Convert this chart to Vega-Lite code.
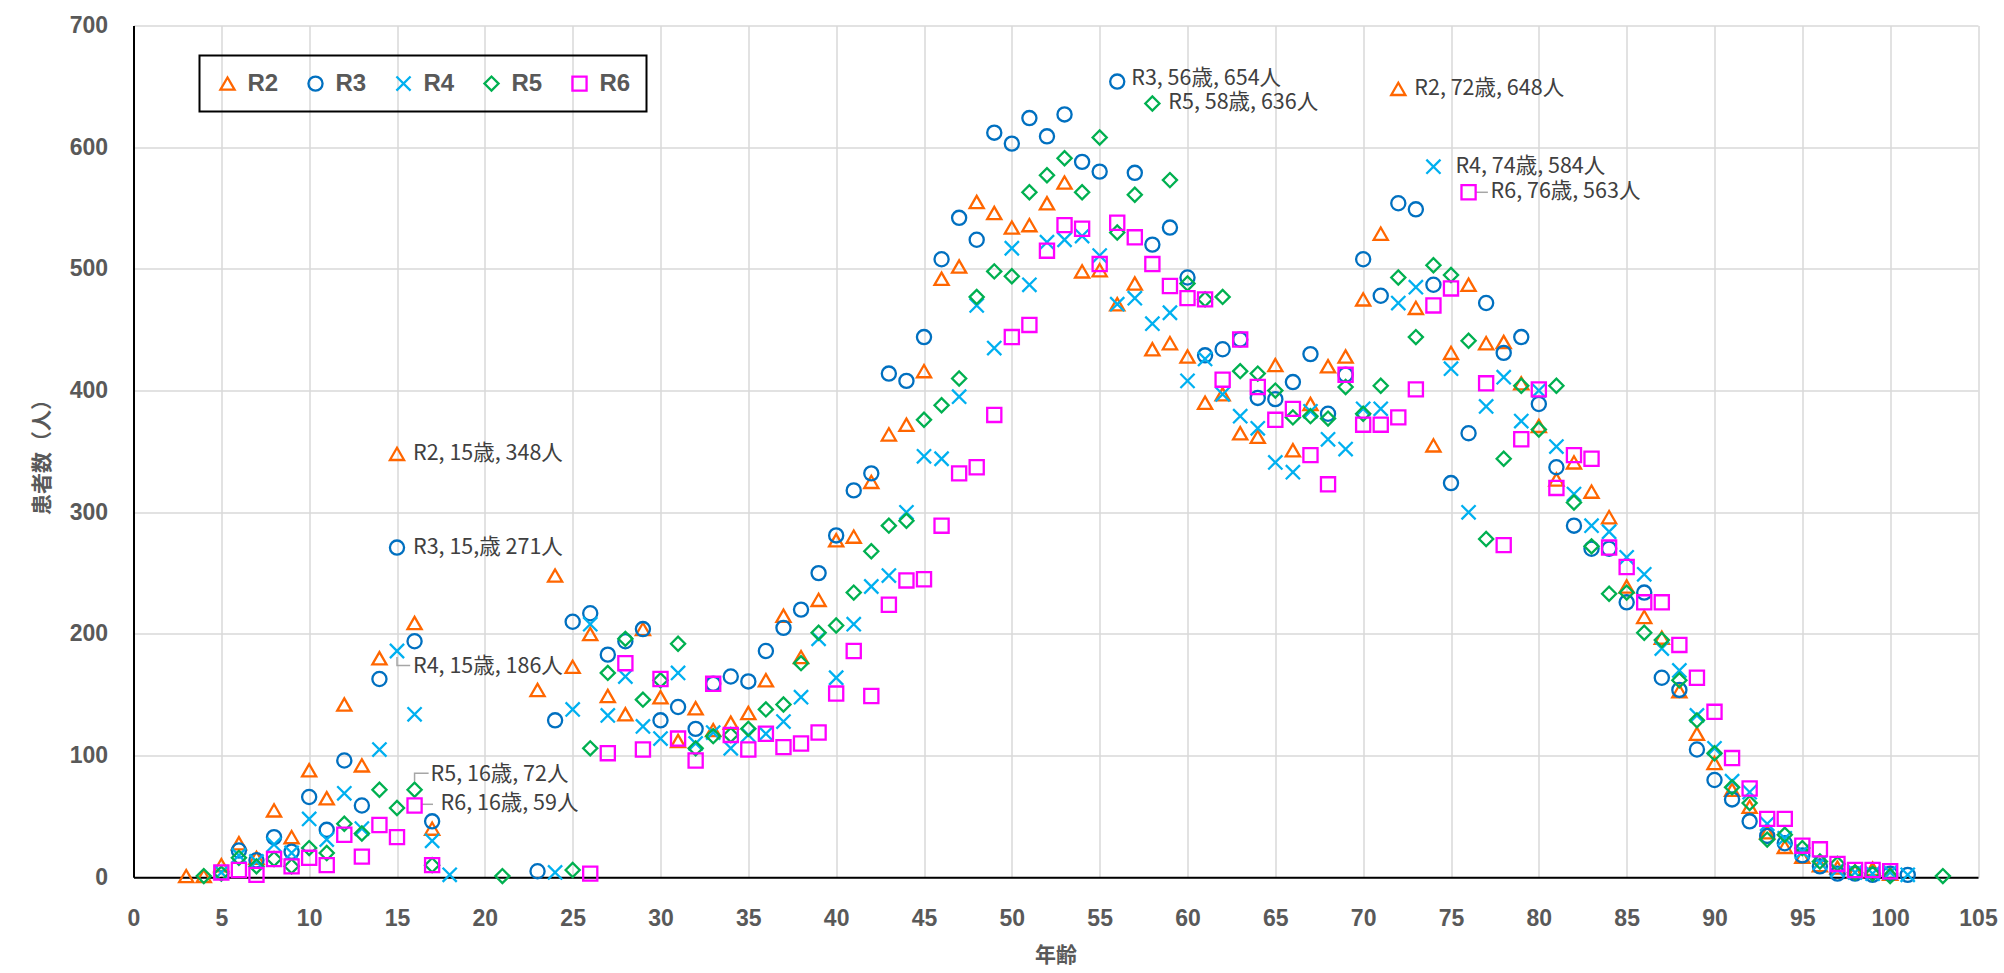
{
"$schema": "https://vega.github.io/schema/vega-lite/v6.json",
"width": 1844.5, "height": 851.7,
"autosize": {"type": "none"},
"padding": {"left": 133.5, "top": 25.6, "right": 26, "bottom": 95.7},
"background": "white",
"config": {
  "view": {"stroke": null},
  "axis": {"grid": true, "gridColor": "#d9d9d9", "gridWidth": 1.5, "domainColor": "#000000", "domainWidth": 2, "ticks": false,
    "labelFont": "Liberation Sans", "labelFontSize": 23, "labelFontWeight": "bold", "labelColor": "#595959",
    "titleFont": "Noto Sans CJK JP", "titleFontSize": 21, "titleFontWeight": "bold", "titleColor": "#595959",
    "labelFlush": false, "labelOverlap": false},
  "legend": {"strokeWidth": 2}
},
"datasets": {
"pts": [
{"s":"R2","age":3,"n":1},{"s":"R2","age":4,"n":1},{"s":"R2","age":5,"n":10},{"s":"R2","age":6,"n":28},{"s":"R2","age":7,"n":16},{"s":"R2","age":8,"n":55},{"s":"R2","age":9,"n":33},{"s":"R2","age":10,"n":88},{"s":"R2","age":11,"n":65},{"s":"R2","age":12,"n":142},{"s":"R2","age":13,"n":92},{"s":"R2","age":14,"n":180},{"s":"R2","age":15,"n":348},{"s":"R2","age":16,"n":209},{"s":"R2","age":17,"n":40},{"s":"R2","age":23,"n":154},{"s":"R2","age":24,"n":248},{"s":"R2","age":25,"n":173},{"s":"R2","age":26,"n":200},{"s":"R2","age":27,"n":149},{"s":"R2","age":28,"n":134},{"s":"R2","age":29,"n":204},{"s":"R2","age":30,"n":148},{"s":"R2","age":31,"n":112},{"s":"R2","age":32,"n":139},{"s":"R2","age":33,"n":121},{"s":"R2","age":34,"n":127},{"s":"R2","age":35,"n":135},{"s":"R2","age":36,"n":162},{"s":"R2","age":37,"n":215},{"s":"R2","age":38,"n":181},{"s":"R2","age":39,"n":228},{"s":"R2","age":40,"n":277},{"s":"R2","age":41,"n":280},{"s":"R2","age":42,"n":325},{"s":"R2","age":43,"n":364},{"s":"R2","age":44,"n":372},{"s":"R2","age":45,"n":416},{"s":"R2","age":46,"n":492},{"s":"R2","age":47,"n":502},{"s":"R2","age":48,"n":555},{"s":"R2","age":49,"n":546},{"s":"R2","age":50,"n":534},{"s":"R2","age":51,"n":536},{"s":"R2","age":52,"n":554},{"s":"R2","age":53,"n":571},{"s":"R2","age":54,"n":498},{"s":"R2","age":55,"n":499},{"s":"R2","age":56,"n":471},{"s":"R2","age":57,"n":488},{"s":"R2","age":58,"n":434},{"s":"R2","age":59,"n":439},{"s":"R2","age":60,"n":428},{"s":"R2","age":61,"n":390},{"s":"R2","age":62,"n":397},{"s":"R2","age":63,"n":365},{"s":"R2","age":64,"n":362},{"s":"R2","age":65,"n":421},{"s":"R2","age":66,"n":351},{"s":"R2","age":67,"n":389},{"s":"R2","age":68,"n":420},{"s":"R2","age":69,"n":428},{"s":"R2","age":70,"n":475},{"s":"R2","age":71,"n":529},{"s":"R2","age":72,"n":648},{"s":"R2","age":73,"n":468},{"s":"R2","age":74,"n":355},{"s":"R2","age":75,"n":431},{"s":"R2","age":76,"n":487},{"s":"R2","age":77,"n":439},{"s":"R2","age":78,"n":440},{"s":"R2","age":79,"n":406},{"s":"R2","age":80,"n":371},{"s":"R2","age":81,"n":327},{"s":"R2","age":82,"n":341},{"s":"R2","age":83,"n":317},{"s":"R2","age":84,"n":296},{"s":"R2","age":85,"n":239},{"s":"R2","age":86,"n":214},{"s":"R2","age":87,"n":197},{"s":"R2","age":88,"n":153},{"s":"R2","age":89,"n":118},{"s":"R2","age":90,"n":94},{"s":"R2","age":91,"n":72},{"s":"R2","age":92,"n":58},{"s":"R2","age":93,"n":37},{"s":"R2","age":94,"n":25},{"s":"R2","age":95,"n":17},{"s":"R2","age":96,"n":10},{"s":"R2","age":97,"n":8},{"s":"R2","age":98,"n":5},{"s":"R2","age":99,"n":7},{"s":"R2","age":100,"n":3},
{"s":"R3","age":6,"n":22},{"s":"R3","age":7,"n":14},{"s":"R3","age":8,"n":33},{"s":"R3","age":9,"n":21},{"s":"R3","age":10,"n":66},{"s":"R3","age":11,"n":39},{"s":"R3","age":12,"n":96},{"s":"R3","age":13,"n":59},{"s":"R3","age":14,"n":163},{"s":"R3","age":15,"n":271},{"s":"R3","age":16,"n":194},{"s":"R3","age":17,"n":46},{"s":"R3","age":23,"n":5},{"s":"R3","age":24,"n":129},{"s":"R3","age":25,"n":210},{"s":"R3","age":26,"n":217},{"s":"R3","age":27,"n":183},{"s":"R3","age":28,"n":194},{"s":"R3","age":29,"n":204},{"s":"R3","age":30,"n":129},{"s":"R3","age":31,"n":140},{"s":"R3","age":32,"n":122},{"s":"R3","age":33,"n":159},{"s":"R3","age":34,"n":165},{"s":"R3","age":35,"n":161},{"s":"R3","age":36,"n":186},{"s":"R3","age":37,"n":205},{"s":"R3","age":38,"n":220},{"s":"R3","age":39,"n":250},{"s":"R3","age":40,"n":281},{"s":"R3","age":41,"n":318},{"s":"R3","age":42,"n":332},{"s":"R3","age":43,"n":414},{"s":"R3","age":44,"n":408},{"s":"R3","age":45,"n":444},{"s":"R3","age":46,"n":508},{"s":"R3","age":47,"n":542},{"s":"R3","age":48,"n":524},{"s":"R3","age":49,"n":612},{"s":"R3","age":50,"n":603},{"s":"R3","age":51,"n":624},{"s":"R3","age":52,"n":609},{"s":"R3","age":53,"n":627},{"s":"R3","age":54,"n":588},{"s":"R3","age":55,"n":580},{"s":"R3","age":56,"n":654},{"s":"R3","age":57,"n":579},{"s":"R3","age":58,"n":520},{"s":"R3","age":59,"n":534},{"s":"R3","age":60,"n":493},{"s":"R3","age":61,"n":429},{"s":"R3","age":62,"n":434},{"s":"R3","age":63,"n":442},{"s":"R3","age":64,"n":394},{"s":"R3","age":65,"n":393},{"s":"R3","age":66,"n":407},{"s":"R3","age":67,"n":430},{"s":"R3","age":68,"n":381},{"s":"R3","age":69,"n":413},{"s":"R3","age":70,"n":508},{"s":"R3","age":71,"n":478},{"s":"R3","age":72,"n":554},{"s":"R3","age":73,"n":549},{"s":"R3","age":74,"n":487},{"s":"R3","age":75,"n":324},{"s":"R3","age":76,"n":365},{"s":"R3","age":77,"n":472},{"s":"R3","age":78,"n":431},{"s":"R3","age":79,"n":444},{"s":"R3","age":80,"n":389},{"s":"R3","age":81,"n":337},{"s":"R3","age":82,"n":289},{"s":"R3","age":83,"n":270},{"s":"R3","age":84,"n":270},{"s":"R3","age":85,"n":226},{"s":"R3","age":86,"n":234},{"s":"R3","age":87,"n":164},{"s":"R3","age":88,"n":154},{"s":"R3","age":89,"n":105},{"s":"R3","age":90,"n":80},{"s":"R3","age":91,"n":64},{"s":"R3","age":92,"n":46},{"s":"R3","age":93,"n":34},{"s":"R3","age":94,"n":28},{"s":"R3","age":95,"n":18},{"s":"R3","age":96,"n":9},{"s":"R3","age":97,"n":3},{"s":"R3","age":98,"n":3},{"s":"R3","age":99,"n":2},{"s":"R3","age":100,"n":3},{"s":"R3","age":101,"n":2},
{"s":"R4","age":5,"n":4},{"s":"R4","age":6,"n":18},{"s":"R4","age":7,"n":13},{"s":"R4","age":8,"n":27},{"s":"R4","age":9,"n":20},{"s":"R4","age":10,"n":48},{"s":"R4","age":11,"n":31},{"s":"R4","age":12,"n":69},{"s":"R4","age":13,"n":40},{"s":"R4","age":14,"n":105},{"s":"R4","age":15,"n":186},{"s":"R4","age":16,"n":134},{"s":"R4","age":17,"n":30},{"s":"R4","age":18,"n":2},{"s":"R4","age":24,"n":4},{"s":"R4","age":25,"n":138},{"s":"R4","age":26,"n":208},{"s":"R4","age":27,"n":133},{"s":"R4","age":28,"n":165},{"s":"R4","age":29,"n":124},{"s":"R4","age":30,"n":114},{"s":"R4","age":31,"n":168},{"s":"R4","age":32,"n":110},{"s":"R4","age":33,"n":119},{"s":"R4","age":34,"n":106},{"s":"R4","age":35,"n":117},{"s":"R4","age":36,"n":118},{"s":"R4","age":37,"n":128},{"s":"R4","age":38,"n":148},{"s":"R4","age":39,"n":196},{"s":"R4","age":40,"n":164},{"s":"R4","age":41,"n":208},{"s":"R4","age":42,"n":239},{"s":"R4","age":43,"n":248},{"s":"R4","age":44,"n":300},{"s":"R4","age":45,"n":346},{"s":"R4","age":46,"n":344},{"s":"R4","age":47,"n":395},{"s":"R4","age":48,"n":470},{"s":"R4","age":49,"n":435},{"s":"R4","age":50,"n":517},{"s":"R4","age":51,"n":487},{"s":"R4","age":52,"n":522},{"s":"R4","age":53,"n":524},{"s":"R4","age":54,"n":527},{"s":"R4","age":55,"n":511},{"s":"R4","age":56,"n":471},{"s":"R4","age":57,"n":476},{"s":"R4","age":58,"n":455},{"s":"R4","age":59,"n":464},{"s":"R4","age":60,"n":408},{"s":"R4","age":61,"n":426},{"s":"R4","age":62,"n":397},{"s":"R4","age":63,"n":379},{"s":"R4","age":64,"n":369},{"s":"R4","age":65,"n":341},{"s":"R4","age":66,"n":333},{"s":"R4","age":67,"n":383},{"s":"R4","age":68,"n":360},{"s":"R4","age":69,"n":352},{"s":"R4","age":70,"n":385},{"s":"R4","age":71,"n":385},{"s":"R4","age":72,"n":472},{"s":"R4","age":73,"n":485},{"s":"R4","age":74,"n":584},{"s":"R4","age":75,"n":418},{"s":"R4","age":76,"n":300},{"s":"R4","age":77,"n":387},{"s":"R4","age":78,"n":411},{"s":"R4","age":79,"n":375},{"s":"R4","age":80,"n":400},{"s":"R4","age":81,"n":354},{"s":"R4","age":82,"n":315},{"s":"R4","age":83,"n":289},{"s":"R4","age":84,"n":284},{"s":"R4","age":85,"n":263},{"s":"R4","age":86,"n":249},{"s":"R4","age":87,"n":188},{"s":"R4","age":88,"n":170},{"s":"R4","age":89,"n":133},{"s":"R4","age":90,"n":106},{"s":"R4","age":91,"n":79},{"s":"R4","age":92,"n":70},{"s":"R4","age":93,"n":44},{"s":"R4","age":94,"n":32},{"s":"R4","age":95,"n":21},{"s":"R4","age":96,"n":12},{"s":"R4","age":97,"n":6},{"s":"R4","age":98,"n":4},{"s":"R4","age":99,"n":3},{"s":"R4","age":100,"n":4},{"s":"R4","age":101,"n":2},
{"s":"R5","age":4,"n":1},{"s":"R5","age":5,"n":3},{"s":"R5","age":6,"n":16},{"s":"R5","age":7,"n":9},{"s":"R5","age":8,"n":15},{"s":"R5","age":9,"n":9},{"s":"R5","age":10,"n":24},{"s":"R5","age":11,"n":20},{"s":"R5","age":12,"n":44},{"s":"R5","age":13,"n":36},{"s":"R5","age":14,"n":72},{"s":"R5","age":15,"n":57},{"s":"R5","age":16,"n":72},{"s":"R5","age":17,"n":10},{"s":"R5","age":21,"n":1},{"s":"R5","age":25,"n":6},{"s":"R5","age":26,"n":106},{"s":"R5","age":27,"n":168},{"s":"R5","age":28,"n":196},{"s":"R5","age":29,"n":146},{"s":"R5","age":30,"n":162},{"s":"R5","age":31,"n":192},{"s":"R5","age":32,"n":106},{"s":"R5","age":33,"n":116},{"s":"R5","age":34,"n":117},{"s":"R5","age":35,"n":122},{"s":"R5","age":36,"n":138},{"s":"R5","age":37,"n":142},{"s":"R5","age":38,"n":176},{"s":"R5","age":39,"n":201},{"s":"R5","age":40,"n":207},{"s":"R5","age":41,"n":234},{"s":"R5","age":42,"n":268},{"s":"R5","age":43,"n":289},{"s":"R5","age":44,"n":293},{"s":"R5","age":45,"n":376},{"s":"R5","age":46,"n":388},{"s":"R5","age":47,"n":410},{"s":"R5","age":48,"n":477},{"s":"R5","age":49,"n":498},{"s":"R5","age":50,"n":494},{"s":"R5","age":51,"n":563},{"s":"R5","age":52,"n":577},{"s":"R5","age":53,"n":591},{"s":"R5","age":54,"n":563},{"s":"R5","age":55,"n":608},{"s":"R5","age":56,"n":530},{"s":"R5","age":57,"n":561},{"s":"R5","age":58,"n":636},{"s":"R5","age":59,"n":573},{"s":"R5","age":60,"n":488},{"s":"R5","age":61,"n":475},{"s":"R5","age":62,"n":477},{"s":"R5","age":63,"n":416},{"s":"R5","age":64,"n":414},{"s":"R5","age":65,"n":400},{"s":"R5","age":66,"n":378},{"s":"R5","age":67,"n":379},{"s":"R5","age":68,"n":377},{"s":"R5","age":69,"n":403},{"s":"R5","age":70,"n":381},{"s":"R5","age":71,"n":404},{"s":"R5","age":72,"n":493},{"s":"R5","age":73,"n":444},{"s":"R5","age":74,"n":503},{"s":"R5","age":75,"n":495},{"s":"R5","age":76,"n":441},{"s":"R5","age":77,"n":278},{"s":"R5","age":78,"n":344},{"s":"R5","age":79,"n":404},{"s":"R5","age":80,"n":368},{"s":"R5","age":81,"n":404},{"s":"R5","age":82,"n":308},{"s":"R5","age":83,"n":272},{"s":"R5","age":84,"n":233},{"s":"R5","age":85,"n":234},{"s":"R5","age":86,"n":201},{"s":"R5","age":87,"n":195},{"s":"R5","age":88,"n":162},{"s":"R5","age":89,"n":129},{"s":"R5","age":90,"n":102},{"s":"R5","age":91,"n":74},{"s":"R5","age":92,"n":61},{"s":"R5","age":93,"n":31},{"s":"R5","age":94,"n":35},{"s":"R5","age":95,"n":24},{"s":"R5","age":96,"n":13},{"s":"R5","age":97,"n":11},{"s":"R5","age":98,"n":4},{"s":"R5","age":99,"n":3},{"s":"R5","age":100,"n":1},{"s":"R5","age":103,"n":1},
{"s":"R6","age":5,"n":4},{"s":"R6","age":6,"n":6},{"s":"R6","age":7,"n":2},{"s":"R6","age":8,"n":15},{"s":"R6","age":9,"n":9},{"s":"R6","age":10,"n":16},{"s":"R6","age":11,"n":10},{"s":"R6","age":12,"n":35},{"s":"R6","age":13,"n":17},{"s":"R6","age":14,"n":43},{"s":"R6","age":15,"n":33},{"s":"R6","age":16,"n":59},{"s":"R6","age":17,"n":10},{"s":"R6","age":26,"n":3},{"s":"R6","age":27,"n":102},{"s":"R6","age":28,"n":176},{"s":"R6","age":29,"n":105},{"s":"R6","age":30,"n":163},{"s":"R6","age":31,"n":114},{"s":"R6","age":32,"n":96},{"s":"R6","age":33,"n":159},{"s":"R6","age":34,"n":117},{"s":"R6","age":35,"n":105},{"s":"R6","age":36,"n":118},{"s":"R6","age":37,"n":107},{"s":"R6","age":38,"n":110},{"s":"R6","age":39,"n":119},{"s":"R6","age":40,"n":151},{"s":"R6","age":41,"n":186},{"s":"R6","age":42,"n":149},{"s":"R6","age":43,"n":224},{"s":"R6","age":44,"n":244},{"s":"R6","age":45,"n":245},{"s":"R6","age":46,"n":289},{"s":"R6","age":47,"n":332},{"s":"R6","age":48,"n":337},{"s":"R6","age":49,"n":380},{"s":"R6","age":50,"n":444},{"s":"R6","age":51,"n":454},{"s":"R6","age":52,"n":515},{"s":"R6","age":53,"n":536},{"s":"R6","age":54,"n":533},{"s":"R6","age":55,"n":504},{"s":"R6","age":56,"n":538},{"s":"R6","age":57,"n":526},{"s":"R6","age":58,"n":504},{"s":"R6","age":59,"n":486},{"s":"R6","age":60,"n":476},{"s":"R6","age":61,"n":475},{"s":"R6","age":62,"n":409},{"s":"R6","age":63,"n":442},{"s":"R6","age":64,"n":403},{"s":"R6","age":65,"n":376},{"s":"R6","age":66,"n":385},{"s":"R6","age":67,"n":347},{"s":"R6","age":68,"n":323},{"s":"R6","age":69,"n":413},{"s":"R6","age":70,"n":372},{"s":"R6","age":71,"n":372},{"s":"R6","age":72,"n":378},{"s":"R6","age":73,"n":401},{"s":"R6","age":74,"n":470},{"s":"R6","age":75,"n":484},{"s":"R6","age":76,"n":563},{"s":"R6","age":77,"n":406},{"s":"R6","age":78,"n":273},{"s":"R6","age":79,"n":360},{"s":"R6","age":80,"n":401},{"s":"R6","age":81,"n":320},{"s":"R6","age":82,"n":347},{"s":"R6","age":83,"n":344},{"s":"R6","age":84,"n":271},{"s":"R6","age":85,"n":255},{"s":"R6","age":86,"n":226},{"s":"R6","age":87,"n":226},{"s":"R6","age":88,"n":191},{"s":"R6","age":89,"n":164},{"s":"R6","age":90,"n":136},{"s":"R6","age":91,"n":98},{"s":"R6","age":92,"n":73},{"s":"R6","age":93,"n":48},{"s":"R6","age":94,"n":48},{"s":"R6","age":95,"n":26},{"s":"R6","age":96,"n":23},{"s":"R6","age":97,"n":11},{"s":"R6","age":98,"n":6},{"s":"R6","age":99,"n":6},{"s":"R6","age":100,"n":5}
],
"ann": [
{"g":"a","age":15,"n":348,"t":"R2, 15歳, 348人"},
{"g":"a","age":15,"n":271,"t":"R3, 15,歳 271人"},
{"g":"f","age":56,"n":654,"t":"R3, 56歳, 654人"},
{"g":"a","age":58,"n":636,"t":"R5, 58歳, 636人"},
{"g":"a","age":72,"n":648,"t":"R2, 72歳, 648人"},
{"g":"b","age":74,"n":584,"t":"R4, 74歳, 584人"},
{"g":"b","age":76,"n":563,"t":"R6, 76歳, 563人"},
{"g":"c","age":15,"n":186,"t":"R4, 15歳, 186人"},
{"g":"d","age":16,"n":72,"t":"R5, 16歳, 72人"},
{"g":"e","age":16,"n":59,"t":"R6, 16歳, 59人"}
],
"lead": [
{"id":"a","k":1,"age":15,"n":181},{"id":"a","k":2,"age":15,"n":174},{"id":"a","k":3,"age":15.75,"n":174},
{"id":"b","k":1,"age":16,"n":79},{"id":"b","k":2,"age":16,"n":85.5},{"id":"b","k":3,"age":16.8,"n":85.5},
{"id":"c","k":1,"age":16.4,"n":60},{"id":"c","k":2,"age":17.05,"n":60},
{"id":"d","k":1,"age":76.4,"n":563},{"id":"d","k":2,"age":77.1,"n":563}
]
},
"encoding": {
  "x": {"field": "age", "type": "quantitative", "scale": {"domain": [0, 105], "nice": false, "zero": true},
    "axis": {"values": [0,5,10,15,20,25,30,35,40,45,50,55,60,65,70,75,80,85,90,95,100,105], "labelPadding": 30,
      "title": "年齢", "titleX": 922, "titleY": 78, "titleBaseline": "middle", "titleAlign": "center"}},
  "y": {"field": "n", "type": "quantitative", "scale": {"domain": [0, 700], "nice": false},
    "axis": {"values": [0,100,200,300,400,500,600,700], "labelPadding": 26,
      "title": "患者数（人）", "titleX": -91, "titleY": 426, "titleAngle": -90, "titleBaseline": "middle", "titleAlign": "center"}}
},
"layer": [
  {"data": {"name": "lead"}, "mark": {"type": "line", "color": "#a6a6a6", "strokeWidth": 1.5},
   "encoding": {"detail": {"field": "id"}, "order": {"field": "k"}}},
  {"data": {"name": "pts"}, "mark": {"type": "point", "filled": false, "strokeWidth": 2.3, "size": 200, "opacity": 1},
   "encoding": {
     "color": {"field": "s", "type": "nominal",
       "scale": {"domain": ["R2","R3","R4","R5","R6"], "range": ["#FF6600","#0070C0","#00B0F0","#00B050","#FF00FF"]},
       "legend": {"title": null, "orient": "none", "legendX": 66, "legendY": 30, "direction": "horizontal", "columns": 5,
         "strokeColor": "#000000", "padding": 16, "columnPadding": 25, "labelOffset": 8,
         "labelFont": "Liberation Sans", "labelFontSize": 24, "labelFontWeight": "bold", "labelColor": "#595959",
         "symbolSize": 200, "symbolStrokeWidth": 2.3}},
     "shape": {"field": "s", "type": "nominal",
       "scale": {"domain": ["R2","R3","R4","R5","R6"], "range": ["triangle-up","circle","M-1,-1L1,1M-1,1L1,-1","diamond","square"]}}
   }},
  {"data": {"name": "ann"}, "transform": [{"filter": "datum.g === 'a'"}],
   "mark": {"type": "text", "align": "left", "baseline": "middle", "dx": 16, "font": "Noto Sans CJK JP", "fontSize": 21.5, "color": "#404040"},
   "encoding": {"text": {"field": "t"}}},
  {"data": {"name": "ann"}, "transform": [{"filter": "datum.g === 'f'"}],
   "mark": {"type": "text", "align": "left", "baseline": "middle", "dx": 14, "dy": -3, "font": "Noto Sans CJK JP", "fontSize": 21.5, "color": "#404040"},
   "encoding": {"text": {"field": "t"}}},
  {"data": {"name": "ann"}, "transform": [{"filter": "datum.g === 'b'"}],
   "mark": {"type": "text", "align": "left", "baseline": "middle", "dx": 22, "font": "Noto Sans CJK JP", "fontSize": 21.5, "color": "#404040"},
   "encoding": {"text": {"field": "t"}}},
  {"data": {"name": "ann"}, "transform": [{"filter": "datum.g === 'c'"}],
   "mark": {"type": "text", "align": "left", "baseline": "middle", "dx": 16, "dy": 16, "font": "Noto Sans CJK JP", "fontSize": 21.5, "color": "#404040"},
   "encoding": {"text": {"field": "t"}}},
  {"data": {"name": "ann"}, "transform": [{"filter": "datum.g === 'd'"}],
   "mark": {"type": "text", "align": "left", "baseline": "middle", "dx": 16, "dy": -15, "font": "Noto Sans CJK JP", "fontSize": 21.5, "color": "#404040"},
   "encoding": {"text": {"field": "t"}}},
  {"data": {"name": "ann"}, "transform": [{"filter": "datum.g === 'e'"}],
   "mark": {"type": "text", "align": "left", "baseline": "middle", "dx": 26, "dy": -2, "font": "Noto Sans CJK JP", "fontSize": 21.5, "color": "#404040"},
   "encoding": {"text": {"field": "t"}}}
]
}
